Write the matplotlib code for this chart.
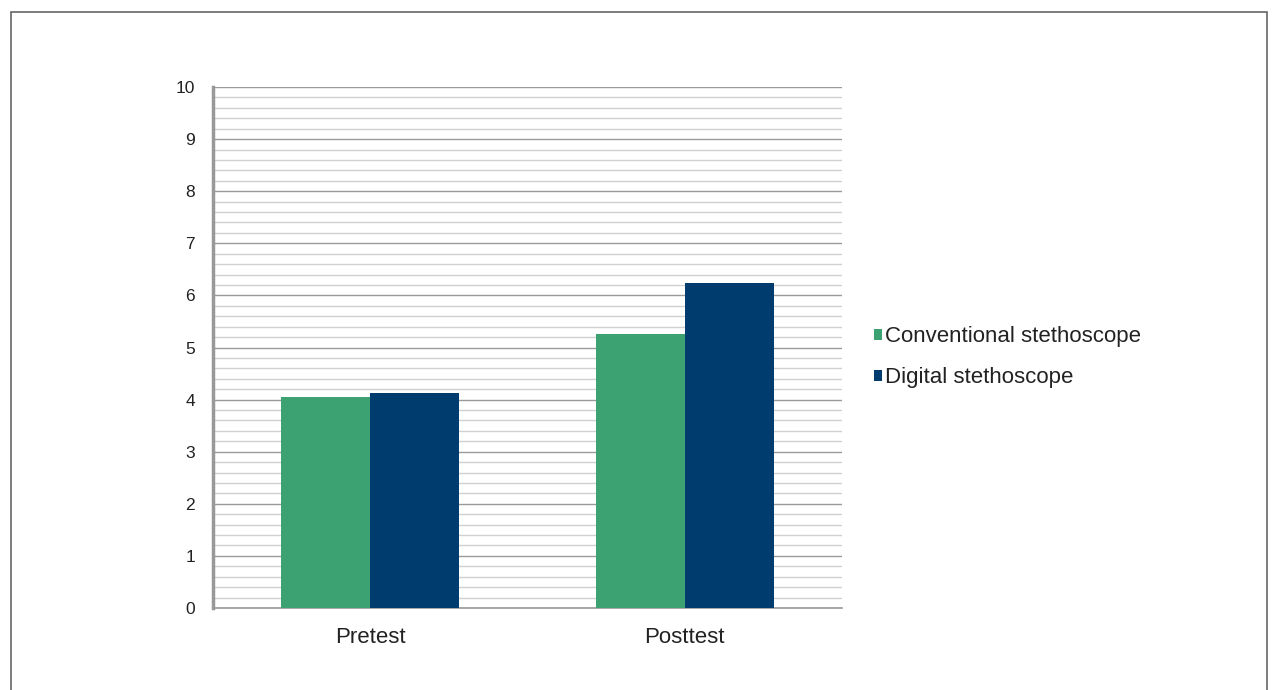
import matplotlib
matplotlib.use("Agg")
import matplotlib.pyplot as plt
import numpy as np
from matplotlib.patches import Rectangle

categories = ["Pretest", "Posttest"]
series_names = ["Conventional stethoscope", "Digital stethoscope"]
conventional = [4.05, 5.26]
digital = [4.13, 6.24]
colors = ["#3DA271", "#003D6E"]

plt.rcParams['font.family'] = ['Liberation Sans', 'DejaVu Sans']
fs_big = 16
fs_tick = 12.5

W, H = 1272, 690
fig = plt.figure(figsize=(W/100, H/100), dpi=100)
fig.patch.set_facecolor("white")

# outer border
fig.add_artist(Rectangle((11/W, -0.05), (1267-11)/W, 1.05 - 12/H, transform=fig.transFigure,
                         fill=False, edgecolor="#666666", linewidth=1.2))

ax = fig.add_axes([213/W, 1-608/H, (842-213)/W, (608-87)/H])
x = np.arange(len(categories))
bw = 0.283
ax.bar(x - bw/2, conventional, bw, color=colors[0], label=series_names[0], zorder=3)
ax.bar(x + bw/2, digital, bw, color=colors[1], label=series_names[1], zorder=3)

ax.set_xlim(-0.5, 1.5)
ax.set_ylim(0, 10)
ax.set_yticks(np.arange(0, 11, 1))
ax.set_yticks(np.arange(0, 10.01, 0.2), minor=True)
ax.grid(axis='y', which='major', color="#9a9a9a", linewidth=1.0, zorder=0)
ax.grid(axis='y', which='minor', color="#d0d0d0", linewidth=1.0, zorder=0)
ax.set_xticks(x)
ax.set_xticklabels(categories, fontsize=fs_big, color="#222222")
ax.tick_params(axis='x', length=0, pad=14)
ax.tick_params(axis='y', which='both', length=0, labelsize=fs_tick, pad=13, labelcolor="#222222")
for s in ["top", "right"]:
    ax.spines[s].set_visible(False)
ax.spines["left"].set_color("#999999")
ax.spines["left"].set_linewidth(2.5)
ax.spines["bottom"].set_color("#999999")
ax.spines["bottom"].set_linewidth(1.2)

leg = ax.legend(loc="center left", bbox_to_anchor=((865-213)/(842-213), (608-357)/(608-87)),
                frameon=False, fontsize=fs_big, handlelength=0.38, handleheight=0.38,
                handletextpad=0.1, labelspacing=0.9, borderaxespad=0)
for t in leg.get_texts():
    t.set_color("#222222")

fig.savefig("out.png", dpi=100, facecolor="white")
